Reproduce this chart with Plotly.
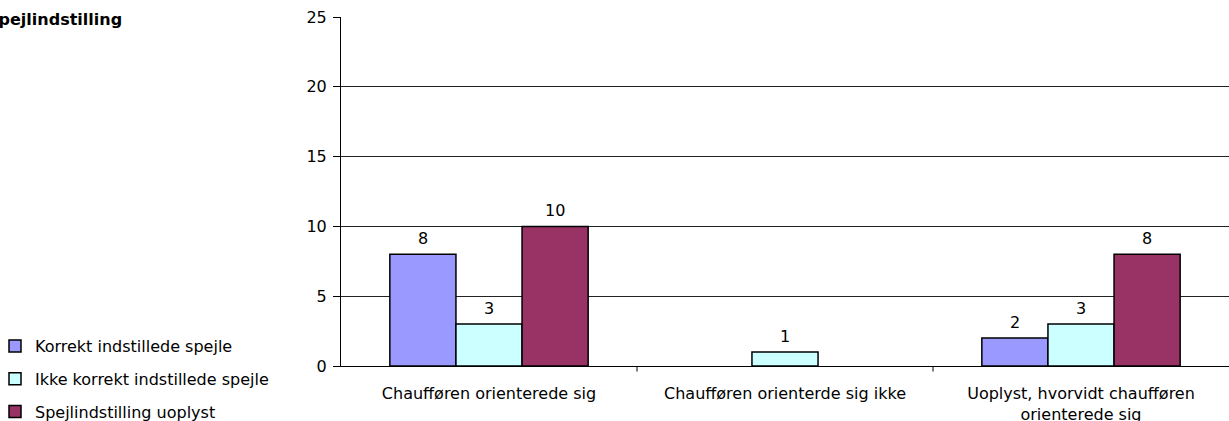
import plotly.graph_objects as go

categories = ["Chaufføren orienterede sig", "Chaufføren orienterde sig ikke",
              "Uoplyst, hvorvidt chaufføren<br>orienterede sig"]
series_names = ["Korrekt indstillede spejle", "Ikke korrekt indstillede spejle",
                "Spejlindstilling uoplyst"]
korrekt = [8, None, 2]
ikke_korrekt = [3, 1, 3]
uoplyst = [10, None, 8]
colors = ["#9999FF", "#CCFFFF", "#993366"]

FONT = "DejaVu Sans"
FS = 16

W, H = 1229, 421
L, R, T, B = 341, 0, 17, 55
pw, ph = W - L - R, H - T - B
BARGAP = 0.33
bar_px = pw / 3 * (1 - BARGAP) / 3

fig = go.Figure()
annots = []
for i, (name, vals) in enumerate(zip(series_names, [korrekt, ikke_korrekt, uoplyst])):
    fig.add_trace(go.Bar(
        x=categories, y=vals, name=name,
        marker=dict(color=colors[i], line=dict(color="black", width=1.5)),
        legendgroup=str(i),
    ))
    for c, v in zip(categories, vals):
        if v is None:
            continue
        annots.append(dict(
            x=c, y=v, xref="x", yref="y", text=str(v), showarrow=False,
            xshift=(i - 1) * bar_px, yshift=16, yanchor="middle",
            bgcolor="white", font=dict(family=FONT, size=FS, color="black"),
        ))

annots.append(dict(
    text="<b>Spejlindstilling</b>", xref="paper", yref="paper",
    x=(124 - L) / pw, xanchor="right", y=(366 - 20) / ph, yanchor="middle",
    showarrow=False, font=dict(family=FONT, size=16, color="black"),
))

fig.update_layout(
    width=W, height=H,
    margin=dict(l=L, r=R, t=T, b=B, pad=0, autoexpand=False),
    plot_bgcolor="white", paper_bgcolor="white",
    barmode="group", bargap=BARGAP, bargroupgap=0,
    font=dict(family=FONT, size=FS, color="black"),
    showlegend=True,
    legend=dict(
        x=(-5 - L) / pw, xanchor="left",
        y=(366 - 329) / ph, yanchor="top",
        traceorder="grouped", tracegroupgap=9,
        font=dict(family=FONT, size=FS, color="black"),
        bgcolor="rgba(0,0,0,0)", itemwidth=30,
    ),
    xaxis=dict(
        showline=True, linecolor="black", linewidth=1,
        ticks="", showgrid=False, ticklabelstandoff=13,
        tickfont=dict(family=FONT, size=FS),
    ),
    yaxis=dict(
        range=[0, 25], dtick=5, showline=True, linecolor="black", linewidth=1,
        ticks="outside", ticklen=7, tickcolor="black", ticklabelstandoff=3,
        showgrid=True, gridcolor="#222222", gridwidth=1,
        zeroline=True, zerolinecolor="black", zerolinewidth=1,
        tickfont=dict(family=FONT, size=FS),
    ),
    annotations=annots,
)

# category separator ticks on x axis
for k in [0.5, 1.5]:
    fig.add_shape(type="line", xref="x", yref="paper", x0=k, x1=k, y0=0, y1=-0.016,
                  line=dict(color="black", width=1))

fig.write_html("out.html", config={"displayModeBar": False},
               post_script="document.body.style.margin='0';")
